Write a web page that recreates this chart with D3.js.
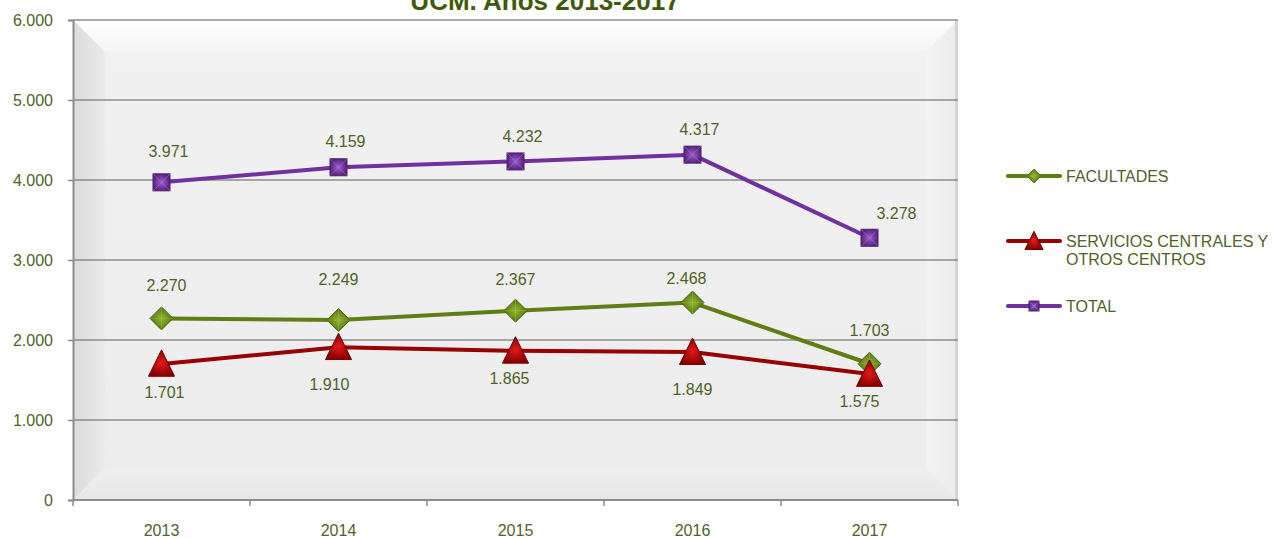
<!DOCTYPE html>
<html>
<head>
<meta charset="utf-8">
<script src="https://cdn.jsdelivr.net/npm/d3@7"></script>
<style>
body { margin: 0; background: #fff; }
text { font-family: "Liberation Sans", Arial, sans-serif; }
</style>
</head>
<body>
<svg width="1274" height="539"></svg>
<script>
// chart data
var years = ['2013', '2014', '2015', '2016', '2017'];
var facultades = [2270, 2249, 2367, 2468, 1703];
var servicios = [1701, 1910, 1865, 1849, 1575];
var total = [3971, 4159, 4232, 4317, 3278];
var yTicks = [0, 1000, 2000, 3000, 4000, 5000, 6000];
var seriesNames = ['FACULTADES', 'SERVICIOS CENTRALES Y|OTROS CENTROS', 'TOTAL'];

// label nudges (pixels), placed by hand in the original
var facLabelOff = [[5, -27], [0, -35], [0, -26], [-6, -19], [0, -28]];
var servLabelOff = [[3, 34], [-9, 43], [-6, 33], [0, 43], [-10, 33]];
var totLabelOff = [[7, -25], [7, -20], [7, -19], [7, -20], [27, -19]];

var svg = d3.select('svg');
var padding = {t: 20, r: 316, b: 39, l: 73};
var chartWidth = 1274 - padding.l - padding.r;
var chartHeight = 539 - padding.t - padding.b;
var textColor = '#4f6228';

var fmt = function(v) { return v === 0 ? '0' : d3.format(',')(v).replace(/,/g, '.'); };

var xScale = d3.scaleBand().domain(years).range([0, chartWidth]);
var yScale = d3.scaleLinear().domain([0, 6000]).range([chartHeight, 0]);

var defs = svg.append('defs');
function linear(id, x2, y2, c1, c2) {
    var g = defs.append('linearGradient').attr('id', id).attr('x1', 0).attr('y1', 0).attr('x2', x2).attr('y2', y2);
    g.append('stop').attr('offset', '0%').attr('stop-color', c1);
    g.append('stop').attr('offset', '100%').attr('stop-color', c2);
}
linear('gTop', 0, 1, '#ffffff', '#f4f4f4');
linear('gLeft', 1, 0, '#dadada', '#ebebeb');
linear('gRight', 1, 0, '#f2f2f2', '#ececec');
linear('gBot', 0, 1, '#eeeeee', '#e8e8e8');
linear('gMid', 0, 1, '#f1f1f1', '#ececec');

// marker gradients
function radial(id, c1, c2) {
    var g = defs.append('radialGradient').attr('id', id);
    g.append('stop').attr('offset', '0%').attr('stop-color', c1);
    g.append('stop').attr('offset', '100%').attr('stop-color', c2);
}
radial('mGreen', '#93b830', '#56730f');
radial('mRed', '#e41a1a', '#8a0000');
radial('mPurple', '#9d60cc', '#5a2380');

// title (cut off at top, as in the original)
svg.append('text')
    .attr('x', 545).attr('y', 10)
    .attr('text-anchor', 'middle')
    .attr('font-size', 26).attr('font-weight', 'bold')
    .attr('fill', '#3f5a0a')
    .text('UCM. Años 2013-2017');

var chartG = svg.append('g')
    .attr('transform', 'translate(' + [padding.l, padding.t] + ')');

// plot background with bevel
var W = chartWidth, H = chartHeight, b = 32;
chartG.append('rect').attr('width', W).attr('height', H).attr('fill', 'url(#gMid)');
chartG.append('path').attr('d', 'M0,0L' + W + ',0L' + (W - b) + ',' + b + 'L' + b + ',' + b + 'Z').attr('fill', 'url(#gTop)');
chartG.append('path').attr('d', 'M0,0L' + b + ',' + b + 'L' + b + ',' + (H - b) + 'L0,' + H + 'Z').attr('fill', 'url(#gLeft)');
chartG.append('path').attr('d', 'M' + W + ',0L' + (W - b) + ',' + b + 'L' + (W - b) + ',' + (H - b) + 'L' + W + ',' + H + 'Z').attr('fill', 'url(#gRight)');
chartG.append('path').attr('d', 'M0,' + H + 'L' + b + ',' + (H - b) + 'L' + (W - b) + ',' + (H - b) + 'L' + W + ',' + H + 'Z').attr('fill', 'url(#gBot)');
chartG.append('rect').attr('x', W - 3).attr('width', 3).attr('height', H).attr('fill', '#d4d4d4');

// gridlines
chartG.selectAll('.grid').data(yTicks).enter().append('line')
    .attr('x1', 0).attr('x2', W)
    .attr('y1', function(d) { return yScale(d); })
    .attr('y2', function(d) { return yScale(d); })
    .attr('stroke', '#8c8c8c').attr('stroke-width', 1.5);

// y axis
var yAxisG = chartG.append('g')
    .call(d3.axisLeft(yScale).tickValues(yTicks).tickFormat(fmt).tickSize(5).tickPadding(15));
yAxisG.select('.domain').attr('stroke', '#8c8c8c').attr('stroke-width', 2);
yAxisG.selectAll('.tick line').attr('stroke', '#8c8c8c').attr('stroke-width', 1.5);
yAxisG.selectAll('text').attr('font-size', 16).attr('fill', textColor).attr('font-family', '"Liberation Sans", Arial, sans-serif');

// x axis
var xAxisG = chartG.append('g').attr('transform', 'translate(0,' + H + ')');
xAxisG.append('line').attr('x1', 0).attr('x2', W).attr('stroke', '#8c8c8c').attr('stroke-width', 2);
var bounds = d3.range(years.length + 1).map(function(i) { return i * xScale.step(); });
xAxisG.selectAll('.xt').data(bounds).enter().append('line')
    .attr('x1', function(d) { return d; }).attr('x2', function(d) { return d; })
    .attr('y1', 0).attr('y2', 6)
    .attr('stroke', '#8c8c8c').attr('stroke-width', 1.5);
xAxisG.selectAll('.xl').data(years).enter().append('text')
    .attr('x', function(d) { return xScale(d) + xScale.bandwidth() / 2; })
    .attr('y', 36)
    .attr('text-anchor', 'middle')
    .attr('font-size', 16).attr('fill', textColor)
    .text(function(d) { return d; });

var cx = function(i) { return xScale(years[i]) + xScale.bandwidth() / 2; };

var series = [
    {name: seriesNames[0], values: facultades, color: '#5f7d12', marker: 'diamond', fill: 'url(#mGreen)', stroke: '#4a6410', off: facLabelOff},
    {name: seriesNames[1], values: servicios, color: '#990000', marker: 'triangle', fill: 'url(#mRed)', stroke: '#6e0000', off: servLabelOff},
    {name: seriesNames[2], values: total, color: '#7030a0', marker: 'square', fill: 'url(#mPurple)', stroke: '#4d1f70', off: totLabelOff}
];

var line = d3.line()
    .x(function(d, i) { return cx(i); })
    .y(function(d) { return yScale(d); });

function drawMarker(g, type, fill, stroke, size) {
    if (type === 'diamond') {
        var s = size;
        g.append('path').attr('d', 'M0,' + (-s) + 'L' + s + ',0L0,' + s + 'L' + (-s) + ',0Z')
            .attr('fill', fill).attr('stroke', stroke).attr('stroke-width', 1);
        g.append('path').attr('d', 'M' + (-s) + ',0L' + s + ',0M0,' + (-s) + 'L0,' + s)
            .attr('stroke', '#a9c94a').attr('stroke-width', 0.7).attr('opacity', 0.5);
    } else if (type === 'triangle') {
        var t = size;
        g.append('path').attr('d', 'M0,' + (-t * 1.08) + 'L' + t + ',' + (t * 0.95) + 'L' + (-t) + ',' + (t * 0.95) + 'Z')
            .attr('fill', fill).attr('stroke', stroke).attr('stroke-width', 1);
    } else {
        var q = size;
        g.append('rect').attr('x', -q).attr('y', -q).attr('width', 2 * q).attr('height', 2 * q)
            .attr('fill', fill).attr('stroke', stroke).attr('stroke-width', 1);
        g.append('path').attr('d', 'M' + (-q) + ',' + (-q) + 'L' + q + ',' + q + 'M' + q + ',' + (-q) + 'L' + (-q) + ',' + q)
            .attr('stroke', '#b07ad8').attr('stroke-width', 0.8).attr('opacity', 0.7);
    }
}

var markerSize = {diamond: 11.5, triangle: 13, square: 8.5};

// draw order: total, facultades, servicios
[series[2], series[0], series[1]].forEach(function(s) {
    chartG.append('path').datum(s.values)
        .attr('d', line)
        .attr('fill', 'none')
        .attr('stroke', s.color)
        .attr('stroke-width', 4)
        .attr('stroke-linejoin', 'round');
});
[series[2], series[0], series[1]].forEach(function(s) {
    s.values.forEach(function(v, i) {
        var g = chartG.append('g').attr('transform', 'translate(' + [cx(i), yScale(v)] + ')');
        drawMarker(g, s.marker, s.fill, s.stroke, markerSize[s.marker]);
    });
});

// data labels
series.forEach(function(s) {
    chartG.selectAll(null).data(s.values).enter().append('text')
        .attr('x', function(d, i) { return cx(i) + s.off[i][0]; })
        .attr('y', function(d, i) { return yScale(d) + s.off[i][1]; })
        .attr('text-anchor', 'middle')
        .attr('font-size', 16).attr('fill', textColor)
        .text(fmt);
});

// legend
var legend = svg.append('g').attr('transform', 'translate(1008,0)');
var legendY = [176, 241, 306];
series.forEach(function(s, i) {
    var g = legend.append('g').attr('transform', 'translate(0,' + legendY[i] + ')');
    g.append('line').attr('x1', 0).attr('x2', 52).attr('stroke', s.color).attr('stroke-width', 4).attr('stroke-linecap', 'round');
    var mg = g.append('g').attr('transform', 'translate(26,0)');
    drawMarker(mg, s.marker, s.fill, s.stroke, s.marker === 'triangle' ? 9 : (s.marker === 'diamond' ? 7 : 5));
    var lines = s.name.split('|');
    lines.forEach(function(t, j) {
        g.append('text').attr('x', 58).attr('y', 6 + j * 18)
            .attr('font-size', 16).attr('fill', textColor).text(t);
    });
});
</script>
</body>
</html>
